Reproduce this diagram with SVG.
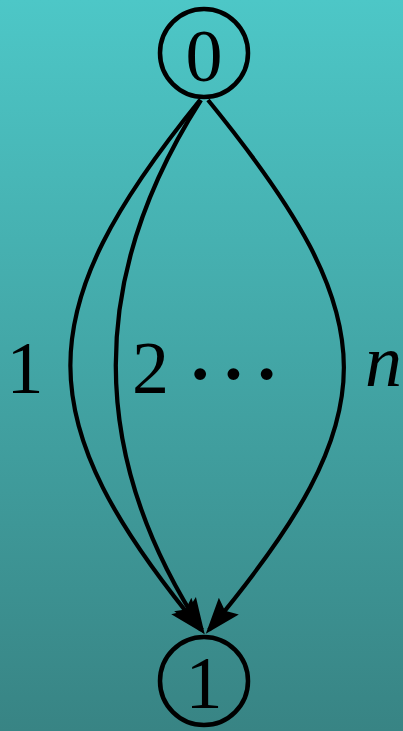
<svg xmlns="http://www.w3.org/2000/svg" width="403" height="731" viewBox="0 0 403 731">
  <defs>
    <linearGradient id="bg" x1="0" y1="0" x2="0" y2="1">
      <stop offset="0" stop-color="#4DC7C7"/>
      <stop offset="1" stop-color="#388484"/>
    </linearGradient>
    <marker id="arrow" markerUnits="userSpaceOnUse" orient="auto" refX="0" refY="0" markerWidth="60" markerHeight="40" overflow="visible">
      <path d="M5,0 L-31,-13 L-25,0 L-31,13 Z" fill="#000"/>
    </marker>
    <style>
      .node circle { fill: none; stroke: #000; stroke-width: 4.5; }
      .node text, .label { font-family: "Liberation Serif", "DejaVu Serif", serif; font-size: 74px; fill: #000; }
      .edge { fill: none; stroke: #000; stroke-width: 4.2; marker-end: url(#arrow); }
    </style>
  </defs>
  <rect x="0" y="0" width="403" height="731" fill="url(#bg)"/>
  <g id="edges">
    <path class="edge" d="M200,100 C27,313 27,419 201,630"/>
    <path class="edge" d="M201,100 C87,278 87,454 202,630"/>
    <path class="edge" d="M208,100 C389,322 389,414 209,630"/>
  </g>
  <g id="node0" class="node">
    <circle cx="204" cy="53" r="44"/>
    <text x="204" y="81" text-anchor="middle">0</text>
  </g>
  <g id="node1" class="node">
    <circle cx="204" cy="681" r="44"/>
    <text x="204" y="708" text-anchor="middle">1</text>
  </g>
  <g id="labels">
    <text class="label" x="25" y="393" text-anchor="middle">1</text>
    <text class="label" x="132" y="393">2</text>
    <text class="label" x="183.5" y="407" style="font-size:100px">···</text>
    <text class="label" x="365" y="386" font-style="italic">n</text>
  </g>
</svg>
